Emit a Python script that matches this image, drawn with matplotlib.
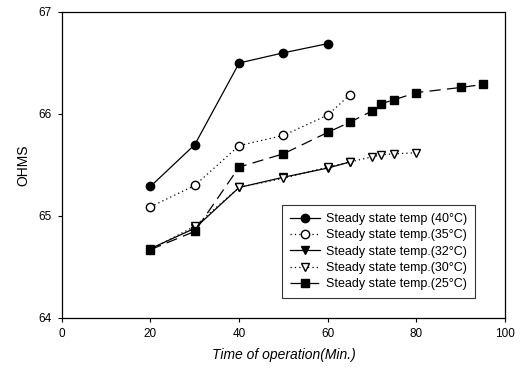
import numpy as np
import matplotlib
matplotlib.use("Agg")
import matplotlib.pyplot as plt

plt.rcParams["font.family"] = ["Liberation Sans", "DejaVu Sans"]

# data
t40 = [20, 30, 40, 50, 60]
r40 = [65.29, 65.70, 66.50, 66.60, 66.69]

t35 = [20, 30, 40, 50, 60, 65]
r35 = [65.09, 65.30, 65.69, 65.79, 65.99, 66.19]

t32 = [20, 30, 40, 50, 60, 65]
r32 = [64.68, 64.88, 65.28, 65.38, 65.47, 65.53]

t30 = [20, 30, 40, 50, 60, 65, 70, 72, 75, 80]
r30 = [64.67, 64.90, 65.28, 65.37, 65.48, 65.53, 65.58, 65.60, 65.61, 65.62]

t25 = [20, 30, 40, 50, 60, 65, 70, 72, 75, 80, 90, 95]
r25 = [64.67, 64.85, 65.48, 65.61, 65.82, 65.92, 66.03, 66.10, 66.14, 66.21, 66.26, 66.29]

labels = [
    "Steady state temp (40\u00b0C)",
    "Steady state temp.(35\u00b0C)",
    "Steady state temp.(32\u00b0C)",
    "Steady state temp.(30\u00b0C)",
    "Steady state temp.(25\u00b0C)",
]

fig = plt.figure(figsize=(5.24, 3.75), dpi=100)
ax = fig.add_axes([0.118, 0.152, 0.846, 0.816])

lw = 0.9
ms = 6
ax.plot(t40, r40, color="black", lw=lw, ls="-", marker="o", ms=ms,
        mfc="black", label=labels[0])
ax.plot(t35, r35, color="black", lw=lw, ls=(0, (1, 2.5)), marker="o", ms=ms,
        mfc="white", label=labels[1])
ax.plot(t32, r32, color="black", lw=lw, ls="-", marker="v", ms=ms,
        mfc="black", label=labels[2])
ax.plot(t30, r30, color="black", lw=lw, ls=(0, (1, 2.5)), marker="v", ms=ms,
        mfc="white", label=labels[3])
ax.plot(t25, r25, color="black", lw=lw, ls=(0, (9, 5)), marker="s", ms=ms - 0.5,
        mfc="black", label=labels[4])

ax.set_xlim(0, 100)
ax.set_ylim(64, 67)
ax.set_xticks([0, 20, 40, 60, 80, 100])
ax.set_yticks([64, 65, 66, 67])
ax.tick_params(direction="out", length=3, width=0.8, labelsize=8.5, pad=4)
for s in ax.spines.values():
    s.set_linewidth(0.9)

ax.set_xlabel("Time of operation(Min.)", fontsize=10, style="italic", labelpad=6)
ax.set_ylabel("OHMS", fontsize=10, labelpad=6)

leg = ax.legend(loc="lower right", bbox_to_anchor=(0.945, 0.045), fontsize=9,
                frameon=True, fancybox=False, edgecolor="black",
                handlelength=2.4, handletextpad=0.5, labelspacing=0.35,
                borderpad=0.6)
leg.get_frame().set_linewidth(0.8)

fig.savefig("out.png", dpi=100)
